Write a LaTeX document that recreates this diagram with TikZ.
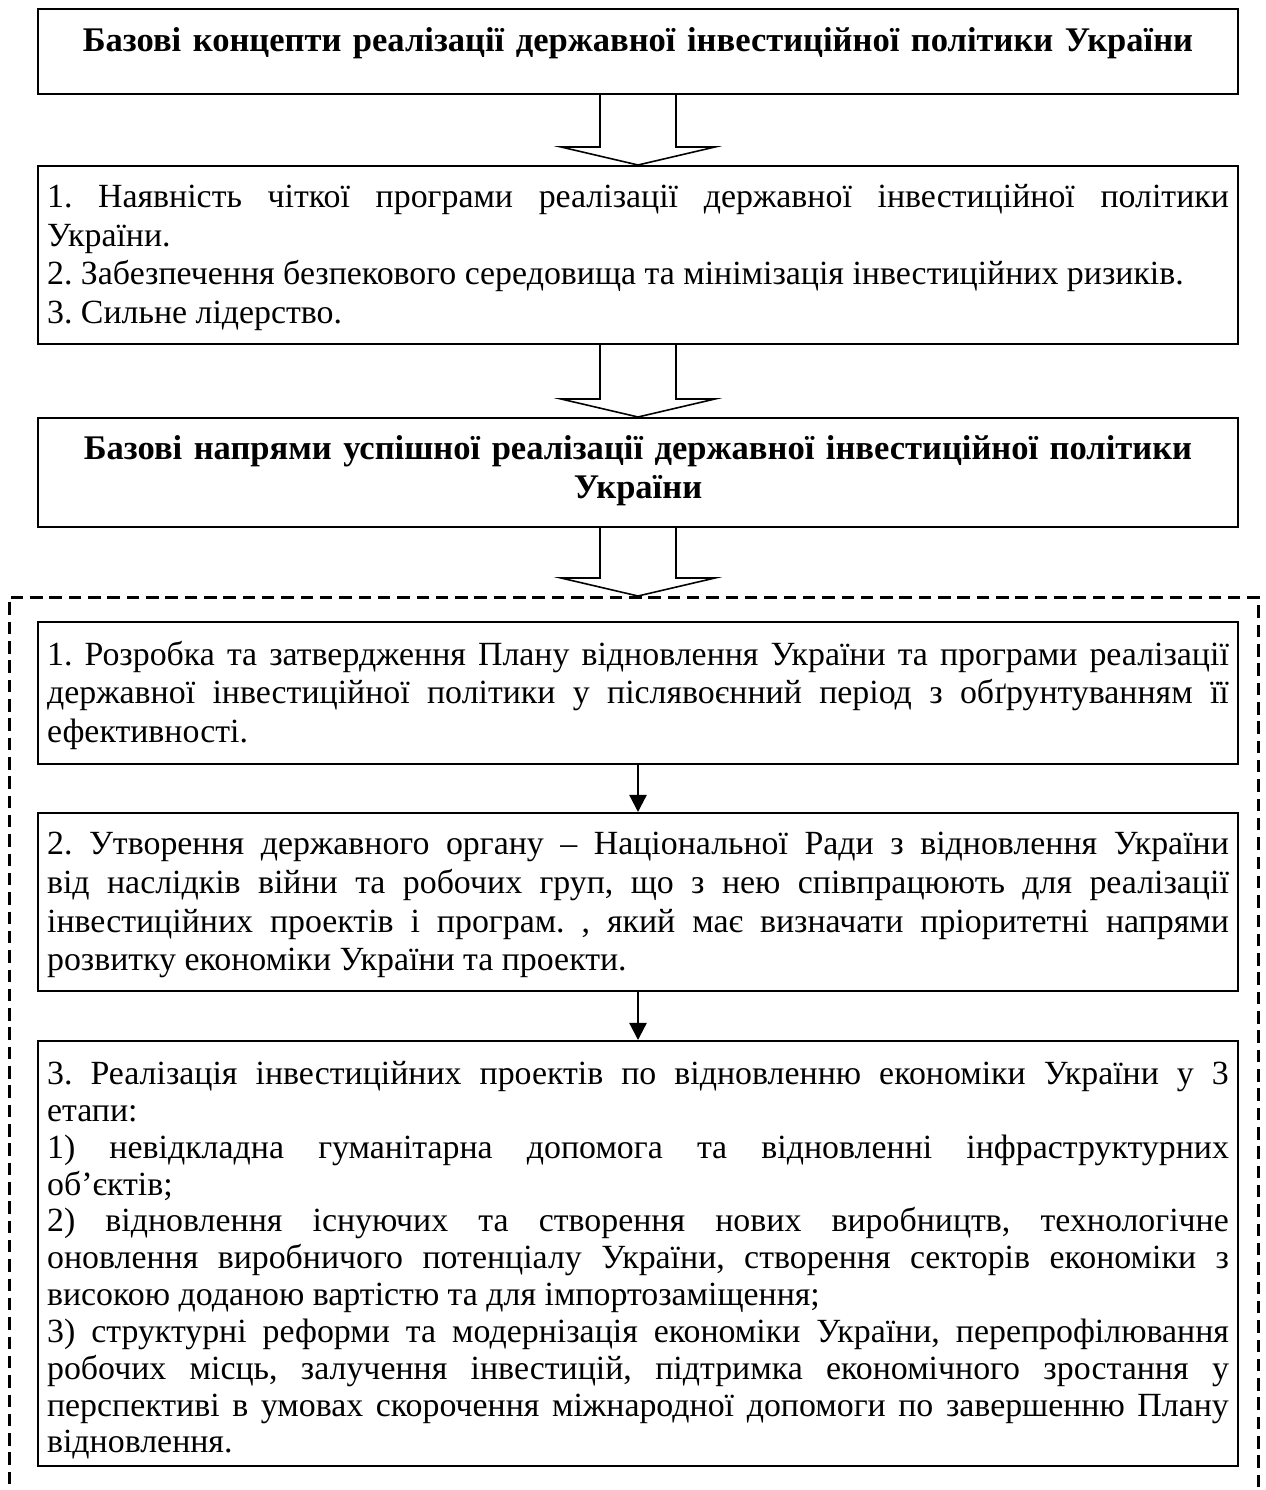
\documentclass[tikz,border=0pt]{standalone}
\usepackage{fontspec}
\setmainfont{Liberation Serif}
\usetikzlibrary{calc,arrows.meta,shadows}
\setlength{\parindent}{0pt}
\tolerance=10000
\frenchspacing
\def\blockarrow(#1)(#2){\draw[hollow] ($(#1)+(-38,0)$) -- ($(#2)+(-38,-18)$) -- ($(#2)+(-77,-18)$) -- (#2) -- ($(#2)+(77,-18)$) -- ($(#2)+(38,-18)$) -- ($(#1)+(38,0)$);}
\tikzset{
	box/.style={draw, line width=0.9pt, fill=white, anchor=north, text width=520pt, inner xsep=4pt, inner ysep=0pt, align=justify, font=\fontsize{14.9}{17}\selectfont, execute at begin node={\rule{0pt}{14.5pt}}, execute at end node=\strut, drop shadow={shadow xshift=0.6pt, shadow yshift=-0.6pt, fill=black!60, opacity=1}},
	stagebox/.style={box, font=\fontsize{14.9}{16.2}\selectfont, execute at begin node={\rule{0pt}{18.3pt}}},
	title/.style={box, align=center, font=\fontsize{15.2}{17}\selectfont\bfseries, execute at begin node=\strut},
	dashframe/.style={draw, line width=1.1pt, dash pattern=on 5.5pt off 3pt},
	hollow/.style={line width=0.7pt, line join=miter},
	link/.style={line width=1pt, -{Triangle[length=7.5pt, width=7.5pt]}}
}
\begin{document}
\begin{tikzpicture}[x=0.44pt, y=-0.44pt]
			%%%%% START %%%%%
			\useasboundingbox (0,0) rectangle (1265,1490);
			
			\node[title, minimum height=37.4pt] (concept) at (638,8) {Базові концепти реалізації державної інвестиційної політики України\rule[-14.5pt]{0pt}{0pt}};
			
			\node[box, minimum height=78.3pt] (basics) at (638,165) {1. Наявність чіткої програми реалізації державної інвестиційної політики \linebreak України.\\
				2. Забезпечення безпекового середовища та мінімізація інвестиційних ризиків.\\
				3. Сильне лідерство.};
			
			\node[title, minimum height=48pt] (directions) at (638,417) {Базові напрями успішної реалізації державної інвестиційної політики\\України\rule[-9pt]{0pt}{0pt}};
			
			\node[dashframe, anchor=north west, minimum width=549.6pt, minimum height=420pt] (frame) at (8,596) {};
			\coordinate (frametip) at (directions.south |- frame.north);
			
			\node[box, minimum height=62.5pt] (plan) at (638,621) {1. Розробка та затвердження Плану відновлення України та програми реалізації \linebreak державної інвестиційної політики у післявоєнний період з обґрунтуванням її \linebreak ефективності.};
			
			\node[box, minimum height=78.3pt] (council) at (638,812) {2. Утворення державного органу – Національної Ради з відновлення України \linebreak від наслідків війни та робочих груп, що з нею співпрацюють для реалізації \linebreak інвестиційних проектів і програм. , який має визначати пріоритетні напрями \linebreak розвитку економіки України та проекти.};
			
			\node[stagebox, minimum height=187pt] (stages) at (638,1040) {3. Реалізація інвестиційних проектів по відновленню економіки України у 3 \linebreak етапи:\\
				1) невідкладна гуманітарна допомога та відновленні інфраструктурних \linebreak об’єктів;\\
				2) відновлення існуючих та створення нових виробництв, технологічне \linebreak оновлення виробничого потенціалу України, створення секторів економіки з \linebreak високою доданою вартістю та для імпортозаміщення;\\
				3) структурні реформи та модернізація економіки України, перепрофілювання \linebreak робочих місць, залучення інвестицій, підтримка економічного зростання у \linebreak перспективі в умовах скорочення міжнародної допомоги по завершенню Плану \linebreak відновлення.};
			
			\blockarrow(concept.south)(basics.north)
			\blockarrow(basics.south)(directions.north)
			\blockarrow(directions.south)(frametip)
			
			\draw[link] (plan) -- (council);
			\draw[link] (council) -- (stages);
			%%%%% END %%%%%
\end{tikzpicture}
\end{document}
